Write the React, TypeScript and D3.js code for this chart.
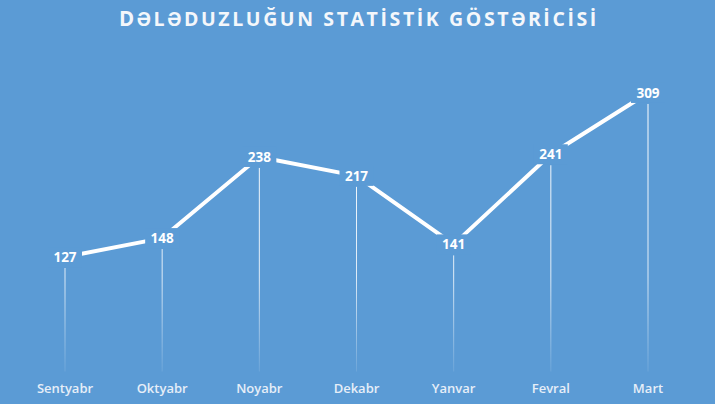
import React from "react";
import * as d3 from "d3";

const categories = ["Sentyabr", "Oktyabr", "Noyabr", "Dekabr", "Yanvar", "Fevral", "Mart"];
const values = [127, 148, 238, 217, 141, 241, 309];
const titleFirst = "D";
const titleRest = "ƏLƏDUZLUĞUN STATİSTİK GÖSTƏRİCİSİ";

const W = 715;
const H = 404;
const BG = "#5b9bd5";

export default function App() {
  const x = d3.scalePoint<string>().domain(categories).range([65, 648]);
  const y = d3.scaleLinear().domain([0, 350]).range([371.5, 56]);
  const line = d3
    .line<number>()
    .x((_, i) => x(categories[i]) as number)
    .y((v) => y(v));

  return (
    <div style={{ position: "fixed", left: 0, top: 0, width: W, height: H }}>
      <svg width={W} height={H} style={{ display: "block" }}>
        <defs>
          <linearGradient id="drop" gradientUnits="userSpaceOnUse" x1="0" y1="100" x2="0" y2={y(0)}>
            <stop offset="0" stopColor="#ffffff" stopOpacity={1} />
            <stop offset="0.65" stopColor="#ffffff" stopOpacity={0.8} />
            <stop offset="1" stopColor="#ffffff" stopOpacity={0.1} />
          </linearGradient>
        </defs>
        <rect width={W} height={H} fill={BG} />
        <text
          x={119}
          y={26}
          fill="#f4f7fb"
          style={{ fontFamily: "'Open Sans', sans-serif", fontWeight: 700, fontSize: "19.5px", letterSpacing: "2.6px" }}
        >
          <tspan style={{ fontSize: "20.5px" }}>{titleFirst}</tspan>
          <tspan>{titleRest}</tspan>
        </text>
        {values.map((v, i) => (
          <line
            key={"d" + i}
            x1={x(categories[i])}
            x2={x(categories[i])}
            y1={y(v) + 11}
            y2={y(0)}
            stroke="url(#drop)"
            strokeWidth={1}
          />
        ))}
        <path
          d={line(values) || ""}
          fill="none"
          stroke="#ffffff"
          strokeWidth={4}
          strokeLinejoin="round"
        />
        {values.map((v, i) => (
          <g key={"l" + i}>
            <rect
              x={(x(categories[i]) as number) - 17}
              y={y(v) - 10}
              width={34}
              height={20}
              fill={BG}
            />
            <text
              x={x(categories[i])}
              y={y(v) + 5}
              textAnchor="middle"
              fontFamily="'Open Sans', sans-serif"
              fontWeight={700}
              fontSize={13.5}
              fill="#ffffff"
            >
              {v}
            </text>
          </g>
        ))}
        {categories.map((c) => (
          <text
            key={c}
            x={x(c)}
            y={393}
            textAnchor="middle"
            fontFamily="'Open Sans', sans-serif"
            fontWeight={600}
            fontSize={13}
            fill="#e6eef8"
          >
            {c}
          </text>
        ))}
      </svg>
    </div>
  );
}
